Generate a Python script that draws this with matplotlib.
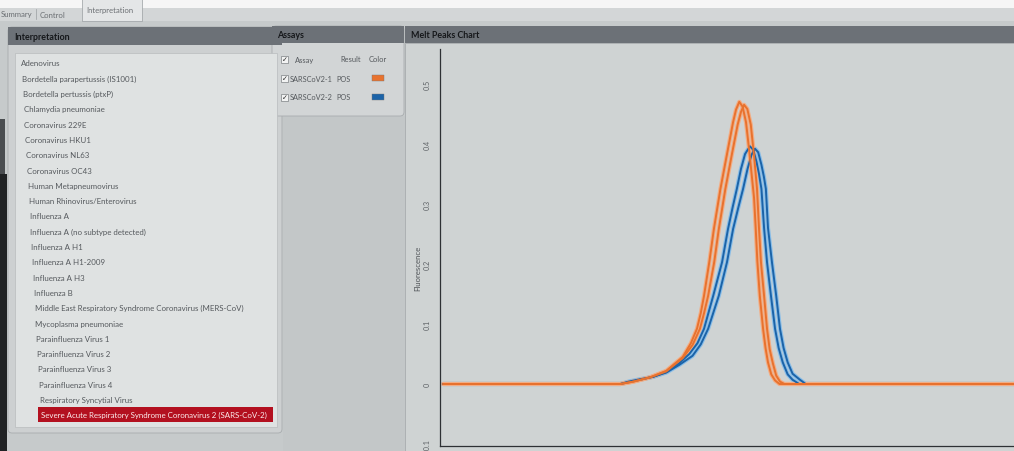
import matplotlib.pyplot as plt
from matplotlib.patches import Rectangle, FancyBboxPatch

# targets shown in the interpretation list
targets = [
    "Adenovirus",
    "Bordetella parapertussis (IS1001)",
    "Bordetella pertussis (ptxP)",
    "Chlamydia pneumoniae",
    "Coronavirus 229E",
    "Coronavirus HKU1",
    "Coronavirus NL63",
    "Coronavirus OC43",
    "Human Metapneumovirus",
    "Human Rhinovirus/Enterovirus",
    "Influenza A",
    "Influenza A (no subtype detected)",
    "Influenza A H1",
    "Influenza A H1-2009",
    "Influenza A H3",
    "Influenza B",
    "Middle East Respiratory Syndrome Coronavirus (MERS-CoV)",
    "Mycoplasma pneumoniae",
    "Parainfluenza Virus 1",
    "Parainfluenza Virus 2",
    "Parainfluenza Virus 3",
    "Parainfluenza Virus 4",
    "Respiratory Syncytial Virus",
    "Severe Acute Respiratory Syndrome Coronavirus 2 (SARS-CoV-2)",
]
selected = "Severe Acute Respiratory Syndrome Coronavirus 2 (SARS-CoV-2)"

assays = ["SARSCoV2-1", "SARSCoV2-2"]
results = ["POS", "POS"]
assay_colors = ["#e8722e", "#1b63a8"]
assay_light = ["#f3ad84", "#88bde8"]

# melt peak traces, temperature (C) vs fluorescence derivative
t_o1 = [60.2, 71.0, 71.8, 72.8, 73.8, 74.8, 75.3, 75.67, 75.9, 76.1, 76.42, 76.7,
        77.1, 77.48, 77.87, 78.05, 78.25, 78.45, 78.66, 78.85, 79.0, 79.15, 79.25,
        79.35, 79.5, 79.7, 79.85, 80.0, 80.2, 80.43, 80.7, 95.0]
f_o1 = [0, 0, 0.004, 0.011, 0.022, 0.045, 0.068, 0.092, 0.118, 0.147, 0.203, 0.258,
        0.325, 0.38, 0.436, 0.457, 0.47, 0.462, 0.436, 0.39, 0.35, 0.31, 0.26,
        0.205, 0.147, 0.092, 0.06, 0.036, 0.016, 0.006, 0, 0]

t_o2 = [60.2, 71.0, 71.8, 72.8, 73.8, 74.8, 75.4, 75.85, 76.1, 76.35, 76.72, 77.0,
        77.4, 77.78, 78.15, 78.35, 78.54, 78.74, 78.95, 79.15, 79.33, 79.45, 79.57,
        79.76, 79.94, 80.1, 80.3, 80.5, 80.73, 81.0, 95.0]
f_o2 = [0, 0, 0.004, 0.011, 0.021, 0.043, 0.065, 0.092, 0.118, 0.147, 0.203, 0.258,
        0.325, 0.38, 0.432, 0.453, 0.465, 0.458, 0.432, 0.38, 0.325, 0.26, 0.203,
        0.147, 0.092, 0.058, 0.034, 0.014, 0.004, 0, 0]

t_b1 = [60.2, 71.0, 71.5, 72.2, 73.0, 73.8, 74.6, 75.2, 75.7, 76.1, 76.66, 77.2,
        77.56, 77.85, 78.1, 78.35, 78.6, 78.9, 79.1, 79.3, 79.45, 79.6, 79.76,
        79.94, 80.18, 80.43, 80.65, 80.9, 81.2, 81.5, 81.9, 95.0]
f_b1 = [0, 0, 0.003, 0.007, 0.012, 0.02, 0.035, 0.05, 0.068, 0.092, 0.147, 0.203,
        0.258, 0.295, 0.325, 0.358, 0.383, 0.396, 0.39, 0.37, 0.35, 0.325, 0.26,
        0.203, 0.147, 0.092, 0.06, 0.036, 0.016, 0.007, 0, 0]

t_b2 = [60.2, 71.0, 71.5, 72.2, 73.0, 73.8, 74.6, 75.4, 75.9, 76.35, 77.0, 77.5,
        77.87, 78.2, 78.48, 78.75, 79.0, 79.2, 79.4, 79.6, 79.75, 79.87, 80.0,
        80.24, 80.5, 80.73, 80.95, 81.2, 81.5, 81.95, 82.3, 95.0]
f_b2 = [0, 0, 0.004, 0.008, 0.012, 0.019, 0.032, 0.047, 0.066, 0.092, 0.147, 0.203,
        0.258, 0.295, 0.325, 0.358, 0.382, 0.392, 0.386, 0.365, 0.345, 0.325, 0.26,
        0.203, 0.147, 0.092, 0.06, 0.036, 0.017, 0.007, 0, 0]

# (temps, values, assay index) - blue first so orange sits on top
traces = [(t_b1, f_b1, 1), (t_b2, f_b2, 1), (t_o1, f_o1, 0), (t_o2, f_o2, 0)]

y_ticks = [-0.1, 0, 0.1, 0.2, 0.3, 0.4, 0.5]
y_labels = ["-0.1", "0", "0.1", "0.2", "0.3", "0.4", "0.5"]

FONT = ["Lato", "DejaVu Sans"]
W, H = 1014, 452

fig = plt.figure(figsize=(W / 100, H / 100), dpi=100)
fig.patch.set_facecolor("#c6cacb")

# whole-window layer in pixel coordinates
ui = fig.add_axes([0, 0, 1, 1], zorder=0)
ui.set_xlim(0, W)
ui.set_ylim(H, 0)
ui.axis("off")


def box(x0, y0, x1, y1, color, r=0, z=1, **kw):
    if r:
        p = FancyBboxPatch((x0, y0), x1 - x0, y1 - y0,
                           boxstyle="round,pad=0,rounding_size=%g" % r,
                           fc=color, ec=kw.pop("ec", "none"), lw=kw.pop("lw", 0.6),
                           zorder=z, **kw)
    else:
        p = Rectangle((x0, y0), x1 - x0, y1 - y0, fc=color,
                      ec=kw.pop("ec", "none"), lw=kw.pop("lw", 0.6), zorder=z, **kw)
    ui.add_patch(p)


def txt(x, y, s, size=5.7, color="#55595d", weight="normal", **kw):
    ui.text(x, y, s, fontsize=size, color=color, fontweight=weight,
            family=FONT, va="center", zorder=10, **kw)


# tab strip
box(0, 0, W, 9, "#f6f6f6", z=0.5)
box(0, 9, W, 22, "#d3d6d7", z=0.6)
box(82, 0, 142, 22, "#e4e6e7", ec="#9a9ea1", lw=0.5, z=0.7)
txt(1, 15, "Summary", size=5.6, color="#6a6e72")
ui.plot([36, 36], [10, 20], color="#9a9ea1", lw=0.5, zorder=9)
txt(40, 15, "Control", size=5.6, color="#6a6e72")
txt(86, 11, "Interpretation", size=5.6, color="#6a6e72")

# dark edge on the left of the window
box(0, 175, 7, H, "#202224", z=0.8)
box(0, 120, 5, 175, "#4a4d50", z=0.8)

# interpretation panel
box(8, 28, 282, 434, "#cdd0d1", r=4, z=1, ec="#a8acae", lw=0.6)
box(8, 28, 282, 46, "#6c7177", z=1.2)
txt(14, 37.5, "Interpretation", size=6.4, color="#15171a", weight="bold")
box(15, 54, 277, 428, "#dfe2e2", z=1.4, ec="#b8bbbd", lw=0.5)

for i, name in enumerate(targets):
    y = 64 + i * 15.3
    x = 21 + i * 0.85
    if name == selected:
        box(x - 3, y - 7.5, 273, y + 7.5, "#b3101f", z=1.6)
        txt(x, y, name, color="#fbecec")
    else:
        txt(x, y, name)

# assays panel
box(283, 117, 408, 452, "#c3c7c8", z=0.9)
box(272, 27, 404, 117, "#d2d5d6", r=4, z=1, ec="#a8acae", lw=0.6)
box(272, 27, 404, 44, "#6c7177", z=1.2)
txt(277, 35.5, "Assays", size=6.4, color="#15171a", weight="bold")

rows_y = [60, 79, 98]
for y in rows_y:
    box(281, y - 3.5, 288, y + 3.5, "#f2f3f3", z=2, ec="#7d8184", lw=0.5)
    ui.text(284.5, y, "\u2713", fontsize=5, color="#222", ha="center",
            va="center", family=["DejaVu Sans"], zorder=10)
txt(295, rows_y[0], "Assay", size=5.4)
txt(340, rows_y[0], "Result", size=5.4)
txt(369, rows_y[0], "Color", size=5.4)
for k, name in enumerate(assays):
    y = rows_y[k + 1]
    txt(290, y, name, size=5.3)
    txt(336, y, results[k], size=5.3)
    box(372, y - 3, 384, y + 3, assay_colors[k], z=2, ec="#777", lw=0.3)

# melt peaks panel
box(405, 44, W + 5, H + 5, "#cfd3d3", z=1, ec="#a8acae", lw=0.6)
box(405, 27, W + 5, 44, "#6c7177", z=1.2)
txt(411, 36, "Melt Peaks Chart", size=6.4, color="#15171a", weight="bold")
ui.text(418, 268, "Fluorescence", rotation=90, fontsize=5.6, color="#4e5256",
        family=FONT, ha="center", va="center", zorder=10)

# chart
ax = fig.add_axes([440 / W, (H - 447) / H, (W - 440) / W, (447 - 50) / H], zorder=2)
ax.set_facecolor("none")
for n, (t, f, k) in enumerate(traces):
    ax.plot(t, f, color=assay_light[k], lw=3.0, solid_capstyle="round",
            solid_joinstyle="round", zorder=2 + n * 0.1)
for n, (t, f, k) in enumerate(traces):
    ax.plot(t, f, color=assay_colors[k], lw=1.4, solid_capstyle="round",
            solid_joinstyle="round", zorder=3 + n * 0.1)

ax.set_xlim(60, 95)
ax.set_ylim(-0.1033, 0.558)
ax.set_yticks(y_ticks)
ax.set_yticklabels(y_labels)
ax.set_xticks([])
ax.tick_params(axis="y", length=0, pad=7, labelsize=5.2, labelcolor="#5d6165",
               labelrotation=90)
for lab in ax.get_yticklabels():
    lab.set_family(FONT)
    lab.set_verticalalignment("center")
for side in ("top", "right"):
    ax.spines[side].set_visible(False)
ax.spines["left"].set_color("#2e3134")
ax.spines["bottom"].set_color("#2e3134")
ax.spines["left"].set_linewidth(0.9)
ax.spines["bottom"].set_linewidth(0.9)

fig.savefig("out.png", dpi=100, facecolor=fig.get_facecolor())
